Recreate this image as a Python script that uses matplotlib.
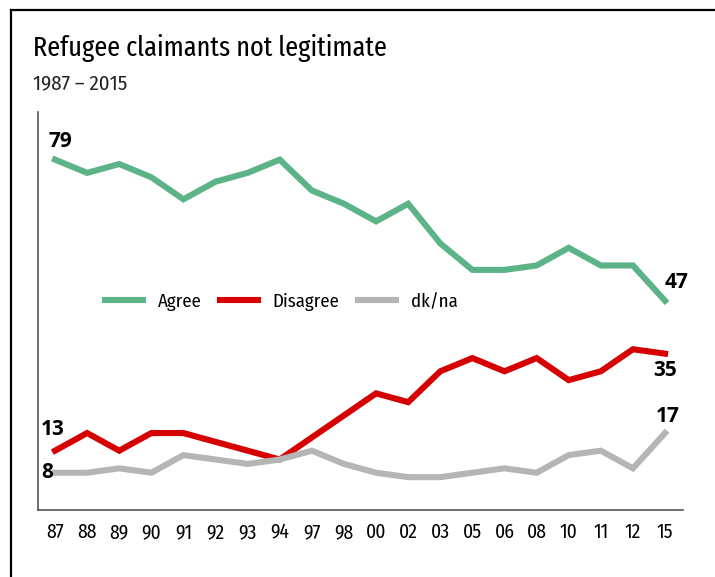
import matplotlib
matplotlib.use("Agg")
import matplotlib.pyplot as plt
from matplotlib.lines import Line2D
import numpy as np

years = ["87", "88", "89", "90", "91", "92", "93", "94", "97", "98",
         "00", "02", "03", "05", "06", "08", "10", "11", "12", "15"]
agree = [79, 76, 78, 75, 70, 74, 76, 79, 72, 69,
         65, 69, 60, 54, 54, 55, 59, 55, 55, 47]
disagree = [13, 17, 13, 17, 17, 15, 13, 11, 16, 21,
            26, 24, 31, 34, 31, 34, 29, 31, 36, 35]
dkna = [8, 8, 9, 8, 12, 11, 10, 11, 13, 10,
        8, 7, 7, 8, 9, 8, 12, 13, 9, 17]

green = "#5db388"
red = "#d60000"
grey = "#b5b5b5"

narrow = ["Fira Sans Condensed", "PT Sans Narrow", "Asap Condensed", "DejaVu Sans"]
xnarrow = ["Fira Sans Extra Condensed", "Fira Sans Condensed", "DejaVu Sans"]
bold = ["Open Sans", "DejaVu Sans"]

fig = plt.figure(figsize=(7.15, 5.77), dpi=100)
ax = fig.add_axes([38 / 715, 67 / 577, 645 / 715, 398 / 577])

x = np.arange(len(years))
ax.plot(x, agree, color=green, lw=4.4, solid_joinstyle="miter", label="Agree")
ax.plot(x, disagree, color=red, lw=4.4, solid_joinstyle="miter", label="Disagree")
ax.plot(x, dkna, color=grey, lw=4.4, solid_joinstyle="miter", label="dk/na")

ax.set_xlim(-0.53, 19.56)
ax.set_ylim(-0.45, 89.8)

for s in ["top", "right"]:
    ax.spines[s].set_visible(False)
for s in ["left", "bottom"]:
    ax.spines[s].set_color("#555555")
    ax.spines[s].set_linewidth(1.2)

ax.set_xticks(x)
ax.set_xticklabels(years, family=narrow, fontsize=14)
ax.set_yticks([])
ax.tick_params(axis="x", length=0, pad=9)

# end labels
def lab(i, v, dx, dy, ha="center"):
    ax.annotate(str(v), (i, v), xytext=(dx, dy), textcoords="offset points",
                ha=ha, va="center", fontsize=15, fontweight="bold", family=bold)

lab(0, agree[0], 4, 13)
lab(19, agree[-1], 8, 13)
lab(0, disagree[0], -1.5, 15)
lab(19, disagree[-1], 0, -12)
lab(0, dkna[0], -1.5, 0, ha="right")
lab(19, dkna[-1], 2, 12)

leg = ax.legend(loc="center left", bbox_to_anchor=(67 / 645, 0.523), ncol=3,
                frameon=False, borderaxespad=0, borderpad=0,
                handlelength=2.0, handletextpad=0.8, columnspacing=1.0,
                prop={"family": narrow, "size": 13.5})

fig.text(33 / 715, 1 - 56 / 577, "Refugee claimants not legitimate",
         family=xnarrow, fontsize=20.5, va="baseline")
fig.text(33 / 715, 1 - 89 / 577, "1987 \u2013 2015",
         family=narrow, fontsize=15, color="#222222", va="baseline")

# frame round the graphic
fig.add_artist(Line2D([11 / 715, 11 / 715], [0, 1 - 10 / 577],
                      transform=fig.transFigure, color="black", lw=1.6))
fig.add_artist(Line2D([11 / 715, 1], [1 - 10 / 577, 1 - 10 / 577],
                      transform=fig.transFigure, color="black", lw=1.6))

fig.savefig("out.png", dpi=100)
